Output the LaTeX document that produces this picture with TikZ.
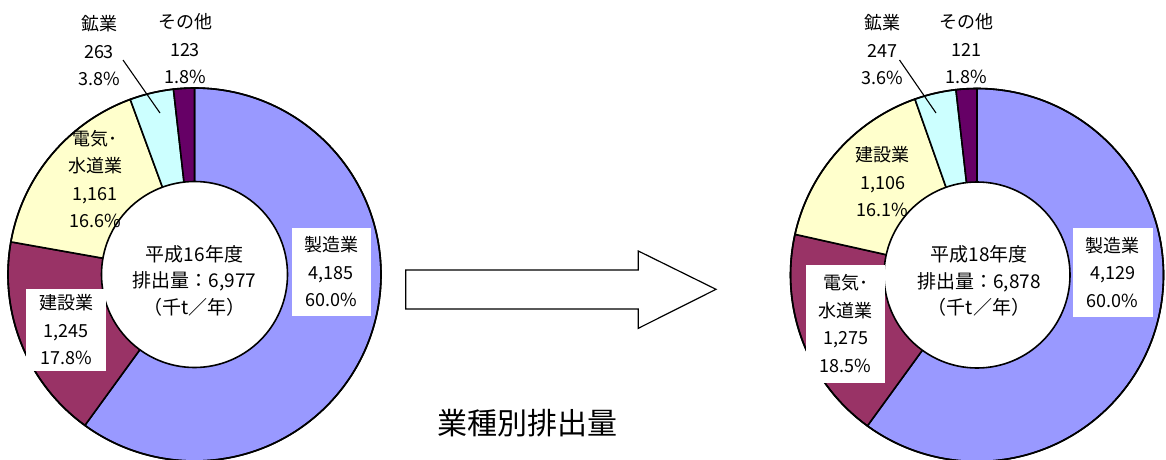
\documentclass[tikz,border=0pt]{standalone}
\usepackage{fontspec}
\setmainfont{Noto Sans CJK JP}
\definecolor{manu}{HTML}{9999FF}
\definecolor{plum}{HTML}{993366}
\definecolor{ivory}{HTML}{FFFFCC}
\definecolor{cyanl}{HTML}{CCFFFF}
\definecolor{purp}{HTML}{660066}
\newcommand\myslice[5]{%
  \filldraw[fill=#5, draw=black, line width=1.6pt, line join=round]
    (#1) -- ++(#3:#2) arc[start angle=#3, end angle=#4, radius=#2] -- cycle;}
\tikzset{
  lbl/.style={font=\fontsize{18}{27.5}\selectfont, align=center, inner sep=0pt},
  boxlbl/.style={lbl, fill=white, inner xsep=3pt, inner ysep=3pt},
  ctr/.style={font=\fontsize{19}{26.5}\selectfont, align=center, inner sep=0pt},
  hole/.style={fill=white, draw=black, line width=1.6pt},
  rim/.style={draw=black, line width=1.6pt},
  leader/.style={draw=black, line width=1.1pt},
  blockarrow/.style={draw=black, fill=white, line width=1.2pt, line join=miter}
}
\begin{document}
\begin{tikzpicture}[x=1pt,y=1pt]
\useasboundingbox (0,0) rectangle (1166,459);
\clip (0,0) rectangle (1166,459);
% ---------- left donut ----------
\coordinate (L) at (194.5,184.5);
\myslice{L}{186.5}{90}{-126}{manu}
\myslice{L}{186.5}{-126}{-190.08}{plum}
\myslice{L}{186.5}{-190.08}{-249.84}{ivory}
\myslice{L}{186.5}{-249.84}{-263.52}{cyanl}
\myslice{L}{186.5}{-263.52}{-270}{purp}
\draw[rim] (L) circle[radius=186.5];
\draw[hole] (L) circle[radius=93];
\node[ctr] (Lc) at (194.5,178.5) {平成16年度\\排出量：6,977\\（千t／年）};
\node[boxlbl, minimum width=79pt, minimum height=88pt] (Lmanu) at (331.2,187.1) {製造業\\4,185\\60.0\%};
\node[boxlbl, minimum width=80pt, minimum height=82pt] (Lcons) at (66,129) {建設業\\1,245\\17.8\%};
\node[lbl] (Lelec) at (95,280) {電気･\\水道業\\1,161\\16.6\%};
\node[lbl] (Lmine) at (99,408) {鉱業\\263\\3.8\%};
\node[lbl] (Loth) at (185,410) {その他\\123\\1.8\%};
\coordinate (Lm1) at (123,399);
\coordinate (Lm2) at (160,346);
\draw[leader] (Lm1) -- (Lm2);
% ---------- right donut ----------
\coordinate (R) at (977,184);
\myslice{R}{186.5}{90}{-126}{manu}
\myslice{R}{186.5}{-126}{-192.6}{plum}
\myslice{R}{186.5}{-192.6}{-250.56}{ivory}
\myslice{R}{186.5}{-250.56}{-263.52}{cyanl}
\myslice{R}{186.5}{-263.52}{-270}{purp}
\draw[rim] (R) circle[radius=186.5];
\draw[hole] (R) circle[radius=93];
\node[ctr] (Rc) at (979,178) {平成18年度\\排出量：6,878\\（千t／年）};
\node[boxlbl, minimum width=80pt, minimum height=89pt] (Rmanu) at (1112.7,186.7) {製造業\\4,129\\60.0\%};
\node[boxlbl, minimum width=79pt, minimum height=118pt] (Relec) at (845.7,135.5) {電気･\\水道業\\1,275\\18.5\%};
\node[lbl] (Rcons) at (882.5,277) {建設業\\1,106\\16.1\%};
\node[lbl] (Rmine) at (882.5,409) {鉱業\\247\\3.6\%};
\node[lbl] (Roth) at (966,410) {その他\\121\\1.8\%};
\coordinate (Rm1) at (899.5,399);
\coordinate (Rm2) at (936,346);
\draw[leader] (Rm1) -- (Rm2);
% ---------- arrow and title ----------
\draw[blockarrow] (405.7,189) -- (638.3,189) -- (638.3,208) -- (716,169.7)
  -- (638.3,130.7) -- (638.3,150) -- (405.7,150) -- cycle;
\node[font=\fontsize{30}{36}\selectfont, inner sep=0pt] (title) at (527,36) {業種別排出量};
\end{tikzpicture}
\end{document}
